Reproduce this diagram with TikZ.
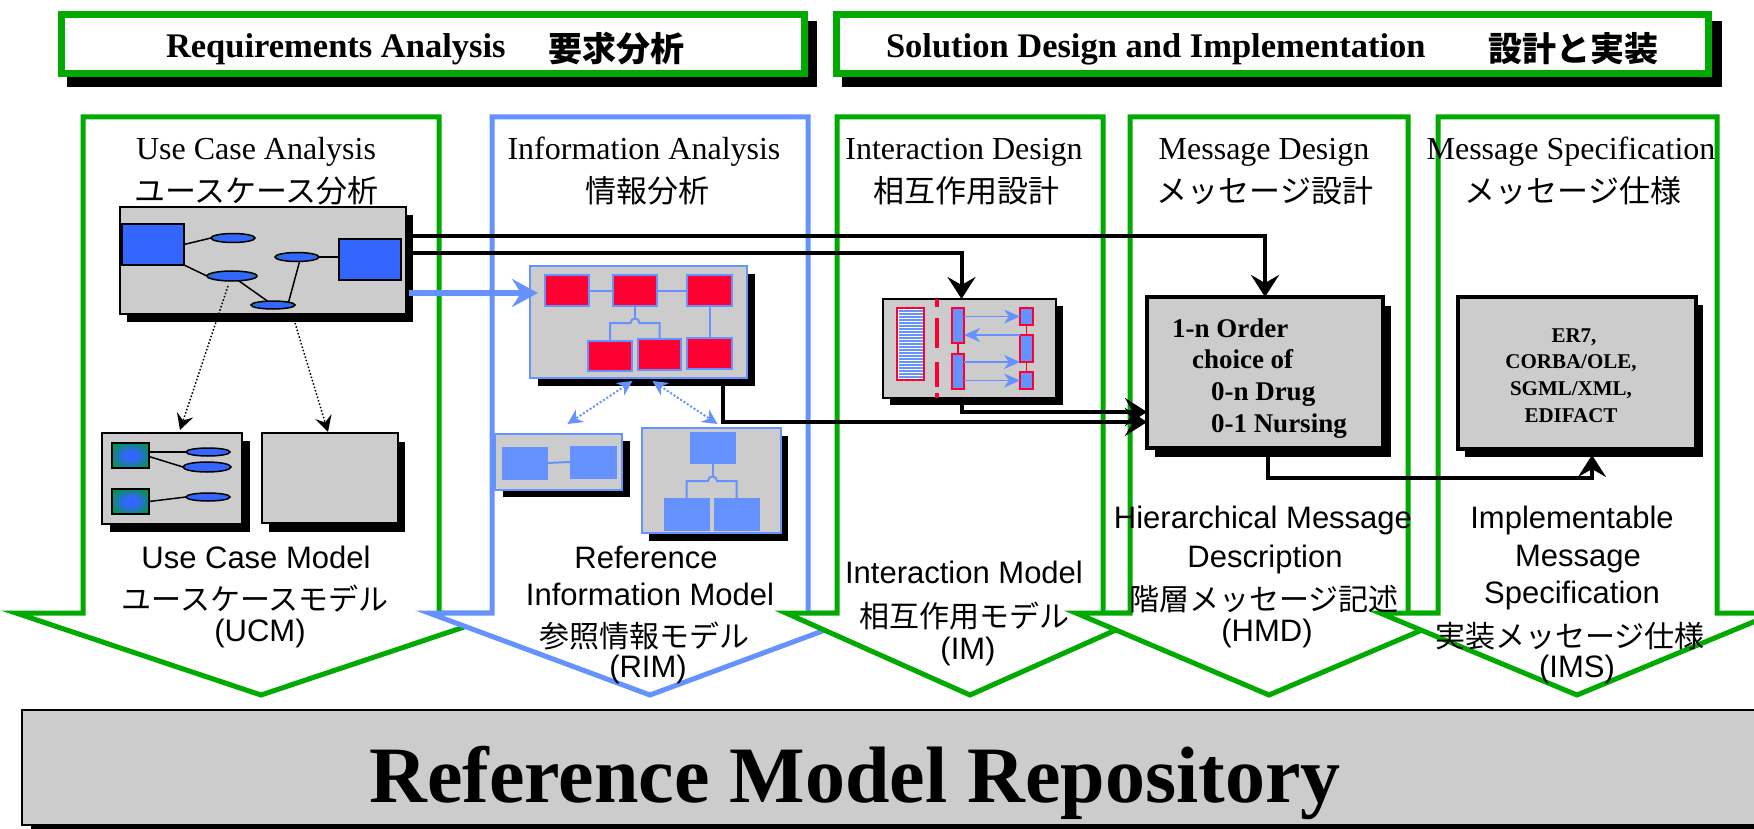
\documentclass[tikz,border=0pt]{standalone}
\usepackage{fontspec}
\setmainfont{Liberation Serif}
\setsansfont{Liberation Sans}
\newfontfamily\jpfont{Noto Sans CJK JP}
\usetikzlibrary{arrows.meta,calc,shapes.geometric,shadows}
\definecolor{grn}{RGB}{0,170,0}
\definecolor{lblue}{RGB}{102,146,255}
\definecolor{gry}{RGB}{204,204,204}
\definecolor{ucblue}{RGB}{51,102,255}
\definecolor{rred}{RGB}{255,0,51}
\definecolor{ellg}{RGB}{0,150,60}
\pgfdeclareradialshading{ellsh}{\pgfpoint{0bp}{0bp}}{color(0bp)=(ucblue); color(18bp)=(ucblue); color(32bp)=(ellg); color(50bp)=(ellg)}
\pgfdeclareradialshading{sqsh}{\pgfpoint{0bp}{0bp}}{color(0bp)=(ucblue); color(8bp)=(ucblue); color(32bp)=(ellg); color(71bp)=(ellg)}
\newcommand\setfs[1]{\fontsize{#1}{#1}\selectfont}
\begin{document}
\begin{tikzpicture}[x=1pt,y=-1pt,
  every node/.style={inner sep=0pt, outer sep=0pt},
  hdbox/.style={rectangle, draw=grn, line width=7pt, fill=white},
  colarr/.style={line width=5pt, fill=white, line join=miter},
  graybox/.style={rectangle, draw=black, fill=gry, line width=1.5pt},
  thickbox/.style={rectangle, draw=black, fill=gry, line width=4.5pt},
  bluebox/.style={rectangle, draw=lblue, fill=gry, line width=2pt},
  shd/.style 2 args={drop shadow={opacity=1, fill=black, shadow xshift=#1pt, shadow yshift=-#2pt}},
  ucrect/.style={rectangle, draw=black, fill=ucblue, line width=1.5pt},
  uce/.style={ellipse, draw=black, line width=1.5pt, shading=ellsh, shade},
  ucsq/.style={rectangle, draw=black, line width=1.5pt, shading=sqsh, shade},
  bluee/.style={ellipse, draw=black, line width=1.5pt, fill=ucblue},
  redbox/.style={rectangle, draw=lblue, fill=rred, line width=2pt},
  lbbox/.style={rectangle, draw=lblue, fill=lblue, line width=1pt},
  lifebox/.style={rectangle, draw=rred, fill=lblue, line width=1.5pt},
  ucl/.style={draw=black, line width=1.5pt},
  bl/.style={draw=lblue, line width=2pt},
  rl/.style={draw=rred, line width=1.5pt},
  conn/.style={line width=4pt, -{Stealth[length=22pt,width=28pt,inset=8pt]}},
  barr/.style={draw=lblue, line width=6pt, -{Stealth[length=26pt,width=28pt,inset=9pt]}},
  dotarr/.style={line width=1.5pt, dash pattern=on 1.5pt off 2pt, -{Stealth[length=16pt,width=17pt,inset=6pt]}},
  bdot/.style={draw=lblue, line width=2pt, dash pattern=on 2pt off 2pt, {Stealth[length=15pt,width=15pt,inset=5pt]}-{Stealth[length=15pt,width=15pt,inset=5pt]}},
  smarr/.style={draw=lblue, line width=1.5pt, -{Stealth[length=16pt,width=14pt,inset=5pt]}},
  hdtxt/.style={font=\setfs{34.5}\bfseries, anchor=base west},
  hdjp/.style={font=\jpfont\setfs{34}\bfseries, anchor=center},
  cttl/.style={font=\setfs{32}, anchor=base},
  cjp/.style={font=\jpfont\setfs{31}, anchor=center},
  lbl/.style={font=\sffamily\setfs{31}, anchor=base},
  ljp/.style={font=\jpfont\setfs{30}, anchor=center},
  boxtxt/.style={font=\setfs{27}\bfseries, anchor=base west},
  imstxt/.style={font=\setfs{21}\bfseries, anchor=base}
]
\useasboundingbox (0,0) rectangle (1754,829);
\clip (0,0) rectangle (1754,829);
\fill[white] (0,0) rectangle (1754,829);

% ---------- headers ----------
\fill[black] (67,21) rectangle (817,87);
\node[hdbox, minimum width=743pt, minimum height=59pt] (h1) at (433,44) {};
\fill[black] (842,21) rectangle (1722,87);
\node[hdbox, minimum width=872pt, minimum height=59pt] (h2) at (1272.5,44) {};
\node[hdtxt] (h1en) at (166,58) {Requirements Analysis};
\node[hdjp] (h1jp) at (616,49) {要求分析};
\node[hdtxt] (h2en) at (886,58) {Solution Design and Implementation};
\node[hdjp] (h2jp) at (1573,49) {設計と実装};

% ---------- column arrows ----------
\draw[colarr, draw=grn] (83,117) -- (439,117) -- (439,613) -- (506,613) -- (261,695) -- (16,613) -- (83,613) -- cycle;
\draw[colarr, draw=lblue] (492,117) -- (808,117) -- (808,613) -- (871,613) -- (650,695) -- (429,613) -- (492,613) -- cycle;
\draw[colarr, draw=grn] (837,117) -- (1103,117) -- (1103,613) -- (1154,613) -- (970,695) -- (786,613) -- (837,613) -- cycle;
\draw[colarr, draw=grn] (1130,117) -- (1408,117) -- (1408,613) -- (1462,613) -- (1269,695) -- (1076,613) -- (1130,613) -- cycle;
\draw[colarr, draw=grn] (1438,117) -- (1717,117) -- (1717,613) -- (1775,613) -- (1577,695) -- (1380,613) -- (1438,613) -- cycle;

% ---------- column titles ----------
\node[cttl] (t1en) at (256,160) {Use Case Analysis};
\node[cjp] (t1jp) at (256.5,191) {ユースケース分析};
\node[cttl] (t2en) at (644,160) {Information Analysis};
\node[cjp] (t2jp) at (647,191) {情報分析};
\node[cttl] (t3en) at (964,160) {Interaction Design};
\node[cjp] (t3jp) at (966,191) {相互作用設計};
\node[cttl] (t4en) at (1264,160) {Message Design};
\node[cjp] (t4jp) at (1265,191) {メッセージ設計};
\node[cttl] (t5en) at (1571,160) {Message Specification};
\node[cjp] (t5jp) at (1573,191) {メッセージ仕様};

% ---------- bottom labels ----------
\node[lbl] (b1a) at (256,568) {Use Case Model};
\node[ljp] (b1b) at (255,599) {ユースケースモデル};
\node[lbl] (b1c) at (260,641) {(UCM)};
\node[lbl] (b2a) at (646,568) {Reference};
\node[lbl] (b2b) at (650,605) {Information Model};
\node[ljp] (b2c) at (644,636) {参照情報モデル};
\node[lbl] (b2d) at (648,677) {(RIM)};
\node[lbl] (b3a) at (964,583) {Interaction Model};
\node[ljp] (b3b) at (964,616) {相互作用モデル};
\node[lbl] (b3c) at (968,659) {(IM)};
\node[lbl] (b4a) at (1263,528) {Hierarchical Message};
\node[lbl] (b4b) at (1265,567) {Description};
\node[ljp] (b4c) at (1264,599) {階層メッセージ記述};
\node[lbl] (b4d) at (1267,641) {(HMD)};
\node[lbl] (b5a) at (1572,528) {Implementable};
\node[lbl] (b5b) at (1578,566) {Message};
\node[lbl] (b5c) at (1572,603) {Specification};
\node[ljp] (b5d) at (1570,636) {実装メッセージ仕様};
\node[lbl] (b5e) at (1577,677) {(IMS)};

% ---------- use case diagram ----------
\node[graybox, shd={7}{8}, minimum width=286pt, minimum height=107pt] (uc) at (263,260.5) {};
\node[ucrect, minimum width=62pt, minimum height=41pt] (ucA) at (153,244.5) {};
\node[ucrect, minimum width=62pt, minimum height=41pt] (ucB) at (370,259.5) {};
\node[uce, minimum width=44pt, minimum height=9pt] (e1) at (233,238) {};
\node[uce, minimum width=50pt, minimum height=10pt] (e2) at (232,276) {};
\node[uce, minimum width=44pt, minimum height=9pt] (e3) at (297,257) {};
\node[uce, minimum width=44pt, minimum height=8pt] (e4) at (273,305) {};
\draw[ucl] (ucA.east) -- (e1.west);
\draw[ucl] (ucA.south east) -- (e2.west);
\draw[ucl] (e2) -- (e4);
\draw[ucl] (e4.north east) -- (e3.300);
\draw[ucl] (e3.east) -- (e3.east -| ucB.west);

\node[graybox, shd={8}{8}, minimum width=140pt, minimum height=91pt] (ucm1) at (172,478.5) {};
\node[ucsq, minimum width=37pt, minimum height=25pt] (sq1) at (130.5,455.5) {};
\node[ucsq, minimum width=37pt, minimum height=25pt] (sq2) at (130.5,501.5) {};
\node[bluee, minimum width=44pt, minimum height=8pt] (f1) at (208,452) {};
\node[bluee, minimum width=48pt, minimum height=10pt] (f2) at (207,467) {};
\node[bluee, minimum width=44pt, minimum height=8pt] (f3) at (208,497) {};
\draw[ucl] (sq1.east |- f1.west) -- (f1.west);
\draw[ucl] ($(sq1.east)+(0,1)$) -- (f2.west);
\draw[ucl] (sq2.east) -- (f3.west);
\node[graybox, shd={7}{9}, minimum width=136pt, minimum height=90pt] (ucm2) at (330,478) {};

\draw[dotarr] ($(e2.south)+(-4,5)$) -- ($(ucm1.north)+(8,-3)$);
\draw[dotarr] ($(uc.south)+(32,9)$) -- ($(ucm2.north)+(-2,-1)$);

% ---------- information model ----------
\node[bluebox, shd={8}{8}, minimum width=217pt, minimum height=112pt] (rim) at (638.5,322) {};
\node[redbox, minimum width=44pt, minimum height=31pt] (r1) at (567,290.5) {};
\node[redbox, minimum width=44pt, minimum height=31pt] (r2) at (635,290.5) {};
\node[redbox, minimum width=45pt, minimum height=31pt] (r3) at (709.5,290.5) {};
\node[redbox, minimum width=44pt, minimum height=30pt] (r4) at (610,356) {};
\node[redbox, minimum width=43pt, minimum height=31pt] (r5) at (659.5,354.5) {};
\node[redbox, minimum width=45pt, minimum height=31pt] (r6) at (709.5,353.5) {};
\draw[bl] (r1.east) -- (r2.west);
\draw[bl] (r2.east) -- (r3.west);
\draw[bl] (r3.south) -- (r6.north);
\draw[bl] (r2.south) -- ++(0,12.5);
\draw[bl] (r4.north) -- ++(0,-18) -- ($(r2.south)+(-4.5,17)$) .. controls +(0,-6) and +(0,-6) .. ($(r2.south)+(4.5,17)$) -- ($(r5.north)+(0,-16)$) -- (r5.north);

\node[bluebox, shd={8}{7}, minimum width=127pt, minimum height=56pt] (rimL) at (558.5,462) {};
\node[lbbox, minimum width=45pt, minimum height=32pt] (b1) at (524.5,463) {};
\node[lbbox, minimum width=46pt, minimum height=32pt] (b2) at (593,462) {};
\draw[bl] (b1.east) -- (b2.west);

\node[bluebox, shd={7}{8}, minimum width=139pt, minimum height=105pt] (rimR) at (711.5,480.5) {};
\node[lbbox, minimum width=45pt, minimum height=31pt] (q1) at (712.5,447.5) {};
\node[lbbox, minimum width=45pt, minimum height=32pt] (q2) at (686.5,514) {};
\node[lbbox, minimum width=45pt, minimum height=32pt] (q3) at (736.5,514) {};
\draw[bl] (q1.south) -- ++(0,13.5);
\draw[bl] (q2.north) -- ++(0,-17) -- ($(q1.south)+(-4.5,18)$) .. controls +(0,-6) and +(0,-6) .. ($(q1.south)+(4.5,18)$) -- ($(q3.north)+(0,-17)$) -- (q3.north);

\draw[bdot] ($(rim.south)+(-6,3)$) -- ($(rimL.north)+(9,-10)$);
\draw[bdot] ($(rim.south)+(14,3)$) -- ($(rimR.north)+(6,-4)$);

% ---------- interaction model ----------
\node[graybox, shd={7}{7}, minimum width=173pt, minimum height=99pt] (im) at (969.5,348.5) {};
\node[rectangle, draw=rred, fill=white, line width=1.5pt, minimum width=27pt, minimum height=72pt] (stripe) at (910.5,344) {};
\foreach \k in {1,...,23} {
  \draw[lblue, line width=1.4pt] ($(stripe.north west)+(1.5,\k*3)$) -- ($(stripe.north east)+(-1.5,\k*3)$);
}
\draw[rred, line width=4pt, dash pattern=on 8pt off 11pt on 30pt off 14pt on 25pt off 6pt on 10pt] ($(im.north west)+(54,0)$) -- ($(im.south west)+(54,0)$);
\node[lifebox, minimum width=12pt, minimum height=35pt] (L1) at (958,325.5) {};
\node[lifebox, minimum width=12pt, minimum height=35pt] (L2) at (958,371.5) {};
\draw[rl] (L1.south) -- (L2.north);
\node[lifebox, minimum width=13pt, minimum height=17pt] (R1) at (1026.5,316.5) {};
\node[lifebox, minimum width=13pt, minimum height=27pt] (R2) at (1026.5,348.5) {};
\node[lifebox, minimum width=13pt, minimum height=17pt] (R3) at (1026.5,380.5) {};
\draw[rl] (R1.south) -- (R2.north);
\draw[rl] (R2.south) -- (R3.north);
\draw[smarr] (R1.west -| L1.east) -- (R1.west);
\draw[smarr] (R2.north west) -- (R2.north west -| L1.east);
\draw[smarr] (R2.south west -| L2.east) -- (R2.south west);
\draw[smarr] (R3.west -| L2.east) -- (R3.west);

% ---------- HMD and IMS ----------
\node[thickbox, shd={8}{9}, minimum width=236pt, minimum height=151pt] (hmd) at (1265,372.5) {};
\node[boxtxt] (m1) at (1172,337) {1-n Order};
\node[boxtxt] (m2) at (1192,368) {choice of};
\node[boxtxt] (m3) at (1211,400) {0-n Drug};
\node[boxtxt] (m4) at (1211,432) {0-1 Nursing};

\node[thickbox, shd={7}{8}, minimum width=238pt, minimum height=152pt] (ims) at (1577,373) {};
\node[imstxt] (s1) at (1574,342) {ER7,};
\node[imstxt] (s2) at (1571,368) {CORBA/OLE,};
\node[imstxt] (s3) at (1571,395) {SGML/XML,};
\node[imstxt] (s4) at (1571,422) {EDIFACT};

% ---------- connectors ----------
\draw[barr] ($(uc.south east)+(3,-21)$) -- ($(rim.north west)+(8,27)$);
\draw[conn] ($(uc.north east)+(7,29)$) -| (hmd.north);
\draw[conn] ($(uc.north east)+(7,46)$) -| ($(im.north)+(-8,0)$);
\draw[conn] ($(rim.south east)+(-24,8)$) |- ($(hmd.south west)+(0,-26)$);
\draw[conn] ($(im.south west)+(79,7)$) |- ($(hmd.south west)+(0,-36)$);
\draw[conn] ($(hmd.south)+(3,9)$) -- ++(0,21) -| ($(ims.south)+(15,6)$);

% ---------- repository bar ----------
\node[graybox, shd={9}{4}, minimum width=1760pt, minimum height=115pt] (repo) at (902,767.5) {};
\node[font=\setfs{80}\bfseries, anchor=base] (repotxt) at (855,802) {Reference Model Repository};
\end{tikzpicture}
\end{document}
